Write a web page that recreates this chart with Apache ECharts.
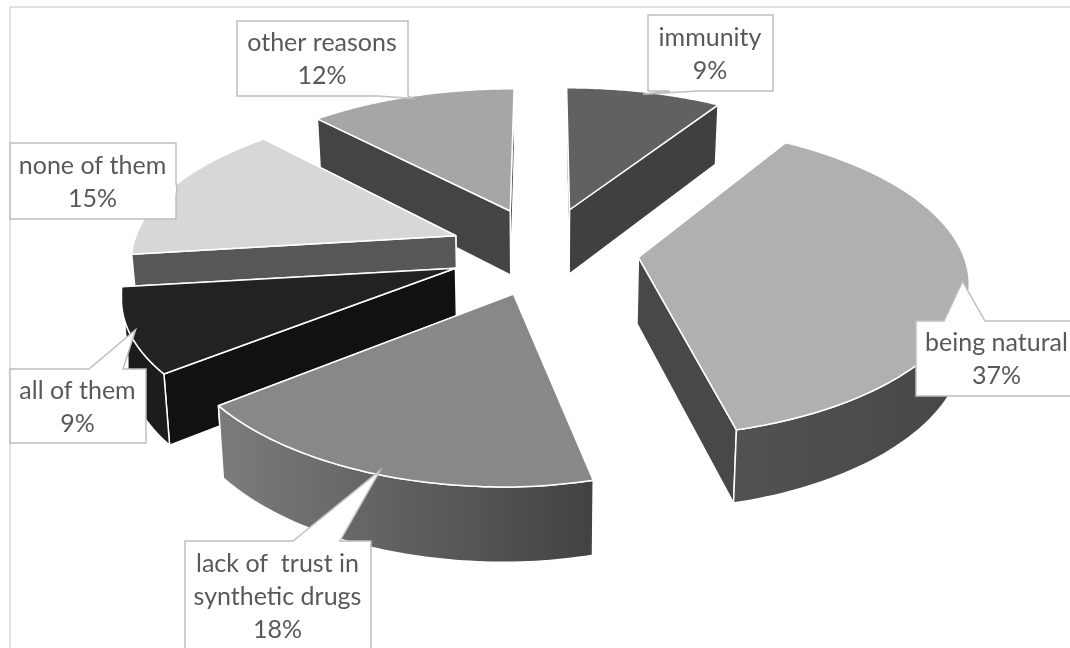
<!DOCTYPE html>
<html>
<head>
<meta charset="utf-8">
<style>html,body{margin:0;padding:0;background:#fff}#c{width:1070px;height:648px}</style>
<script src="https://cdn.jsdelivr.net/npm/echarts@6/dist/echarts.min.js"></script>
</head>
<body>
<div id="c"></div>
<script>
// Reasons given, clockwise from twelve o'clock.
const categories = ['immunity', 'being natural', 'lack of  trust in\nsynthetic drugs', 'all of them', 'none of them', 'other reasons'];
const shares = [9, 37, 18, 9, 15, 12];

// Greys for each slice.
const topColors = ['#616161', '#b0b0b0', '#888888', '#222222', '#d7d7d7', '#a6a6a6'];
const wallColors = ['#404040', '#484848', '#444444', '#111111', '#575757', '#444444'];
const rimColors = [['#404040', '#404040'], ['#525252', '#464646'], ['#7c7c7c', '#424242'], ['#1c1c1c', '#1c1c1c'], ['#575757', '#575757'], ['#444444', '#444444']];

// Callout boxes: x, y, width, height, pointer side, pointer base start and end.
const callouts = [
  [648, 15, 125, 76, 'bottom', 670, 698],
  [916, 321, 162, 75, 'top', 944, 985],
  [185, 541, 186, 110, 'top', 293, 340],
  [10, 369, 136, 74, 'top', 89, 123],
  [10, 143, 166, 76, 'right', 182, 196],
  [237, 21, 171, 75, 'bottom', 378, 408]
];

// Pie geometry in world units, then the oblique projection.
const RADIUS = 324, EXPLODE = 95, THICKNESS = 66, POINTER_REACH = 0.98;
const CX = 544, TOP_Y = 250.5, TILT = 0.465;
const DEPTH_X = 0.00041, DEPTH_Y = 0.00045, DEPTH_H = 0.0003;
const NEAR_SHEAR = 0.04, NEAR_START = 100, NEAR_ROLL = 0.015, BASE_TAPER = 0.985;

function project(u, v, raised) {
  const x = u / (1 + DEPTH_X * v) - NEAR_SHEAR * Math.max(0, -v - NEAR_START);
  const roll = NEAR_ROLL * Math.min(u, 0) * Math.min(1, Math.max(0, -v / 300));
  const y = TOP_Y - TILT * v / (1 + DEPTH_Y * v) + roll;
  if (raised) return [CX + x, y];
  return [CX + x * BASE_TAPER, y + THICKNESS / (1 + DEPTH_H * v)];
}

const total = shares.reduce((a, b) => a + b, 0);
let running = 0;
const slices = shares.map((value, i) => {
  const a = running / total * 2 * Math.PI;
  running += value;
  const b = running / total * 2 * Math.PI;
  const mid = (a + b) / 2;
  return { i, a, b, mid, ou: EXPLODE * Math.sin(mid), ov: EXPLODE * Math.cos(mid) };
});
const rimPoint = (s, t, raised, reach = 1) => project(s.ou + reach * RADIUS * Math.sin(t), s.ov + reach * RADIUS * Math.cos(t), raised);
const apex = (s, raised) => project(s.ou, s.ov, raised);
const arc = (s, from, to, raised) => {
  const pts = [], n = 60;
  for (let k = 0; k <= n; k++) pts.push(rimPoint(s, from + (to - from) * k / n, raised));
  return pts;
};
// Far slices are painted first so near ones overlap them.
const order = slices.slice().sort((p, q) => q.ov - p.ov);

const edge = { stroke: '#ffffff', lineWidth: 1.5, lineJoin: 'round' };

function renderSlice(params) {
  const s = order[params.dataIndex];
  const poly = (points, fill) => ({ type: 'polygon', shape: { points }, style: Object.assign({ fill }, edge) });
  const wall = t => poly([apex(s, true), rimPoint(s, t, true), rimPoint(s, t, false), apex(s, false)], wallColors[s.i]);
  const farFirst = Math.cos(s.a) >= Math.cos(s.b) ? [s.a, s.b] : [s.b, s.a];
  const children = [wall(farFirst[0]), wall(farFirst[1])];
  // Only the part of the rim that faces the viewer is drawn.
  const from = Math.max(s.a, Math.PI / 2 - 0.05), to = Math.min(s.b, 3 * Math.PI / 2 - 0.15);
  if (to > from) {
    const rim = arc(s, from, to, true).concat(arc(s, from, to, false).reverse());
    children.push(poly(rim, {
      type: 'linear', x: 0, y: 0, x2: 1, y2: 0,
      colorStops: [{ offset: 0, color: rimColors[s.i][0] }, { offset: 1, color: rimColors[s.i][1] }]
    }));
  }
  children.push(poly([apex(s, true)].concat(arc(s, s.a, s.b, true)), topColors[s.i]));
  return { type: 'group', children };
}

function calloutPoints(c, tip) {
  const [x, y, w, h, side, p0, p1] = c;
  const r = x + w, b = y + h;
  if (side === 'top') return [[x, y], [p0, y], tip, [p1, y], [r, y], [r, b], [x, b]];
  if (side === 'bottom') return [[x, y], [r, y], [r, b], [p1, b], tip, [p0, b], [x, b]];
  return [[x, y], [r, y], [r, p0], tip, [r, p1], [r, b], [x, b]];
}

function renderCallout(params) {
  const i = params.dataIndex, s = slices[i], c = callouts[i];
  const tip = rimPoint(s, s.mid, true, POINTER_REACH);
  return {
    type: 'group',
    children: [{
      type: 'polygon',
      shape: { points: calloutPoints(c, tip) },
      style: { fill: '#ffffff', stroke: '#bfbfbf', lineWidth: 1.5 }
    }, {
      type: 'text',
      style: {
        text: categories[i] + '\n' + shares[i] + '%',
        x: c[0] + c[2] / 2 - 0.5,
        y: c[1] + c[3] / 2 + 1,
        align: 'center',
        verticalAlign: 'middle',
        fontFamily: 'Lato',
        fontSize: 25,
        lineHeight: 33,
        fill: '#595959'
      }
    }]
  };
}

const chart = echarts.init(document.getElementById('c'), null, { renderer: 'canvas' });
chart.setOption({
  animation: false,
  backgroundColor: '#ffffff',
  tooltip: { show: false },
  graphic: [{
    type: 'rect',
    shape: { x: 10, y: 7, width: 1100, height: 700 },
    style: { fill: 'none', stroke: '#d9d9d9', lineWidth: 1.5 },
    silent: true,
    z: 0
  }],
  series: [
    { type: 'custom', coordinateSystem: 'none', renderItem: renderSlice, data: order.map(s => shares[s.i]), z: 2, silent: true },
    { type: 'custom', coordinateSystem: 'none', renderItem: renderCallout, data: shares, z: 3, silent: true }
  ]
});
</script>
</body>
</html>
